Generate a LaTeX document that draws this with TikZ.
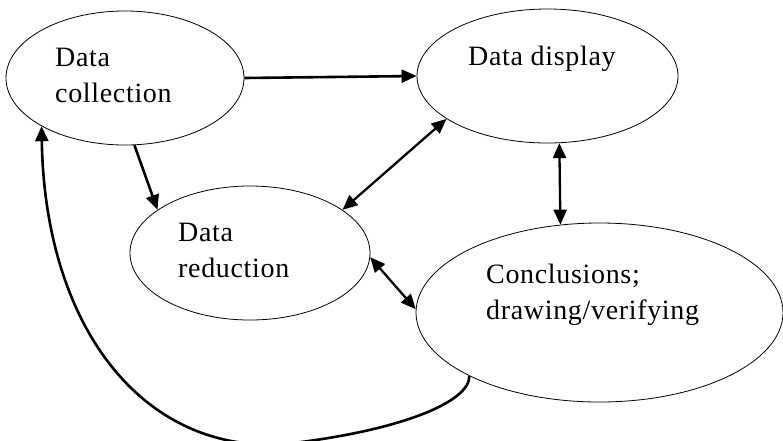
\documentclass[tikz,border=0pt]{standalone}
\usepackage{fontspec}
\setmainfont[LetterSpace=2.4]{Liberation Serif}
\usetikzlibrary{shapes.geometric,arrows.meta}

\tikzset{
  stage/.style={ellipse, draw, line width=0.8pt, inner sep=0pt},
  caption/.style={anchor=base west, align=left, inner sep=0pt,
    font=\fontsize{28}{36}\selectfont},
  flow/.style={line width=2.6pt, -{Triangle[length=15pt,width=13pt]}},
  twoway/.style={line width=2.3pt, {Triangle[length=15pt,width=13pt]}-{Triangle[length=15pt,width=13pt]}},
}

\begin{document}
\begin{tikzpicture}[x=1pt, y=-1pt]
  \useasboundingbox (0,0) rectangle (783,440);

  % the four stages
  \node[stage, minimum width=238pt, minimum height=134pt] (coll)  at (125,78)    {};
  \node[stage, minimum width=261pt, minimum height=134pt] (disp)  at (547.5,76)  {};
  \node[stage, minimum width=240pt, minimum height=134pt] (red)   at (250,253)   {};
  \node[stage, minimum width=367pt, minimum height=179pt] (concl) at (599.5,312.5) {};

  % stage labels (anchored on the baseline of the last line)
  \node[caption] (colltext)  at (55,102)  {Data\\collection};
  \node[caption] (disptext)  at (468,65)  {Data display};
  \node[caption] (redtext)   at (178,277) {Data\\reduction};
  \node[caption] (concltext) at (486,319) {Conclusions;\\drawing/verifying};

  % connectors
  \draw[flow] (coll.east) -- (disp.west);
  \draw[flow] (coll.-82) -- (red.155);
  \draw[twoway] (disp.203) -- (red.25);
  \draw[twoway] (disp.-80) -- (concl.114);
  \draw[twoway] (red.-2) -- (concl.179);

  % feedback loop back to data collection, dipping below the frame
  \coordinate (low) at (285,444);
  \draw[flow] (concl.206)
    .. controls (470,402) and (400,431) .. (low)
    .. controls (145,454) and (45,330) .. (coll.210);
\end{tikzpicture}
\end{document}
